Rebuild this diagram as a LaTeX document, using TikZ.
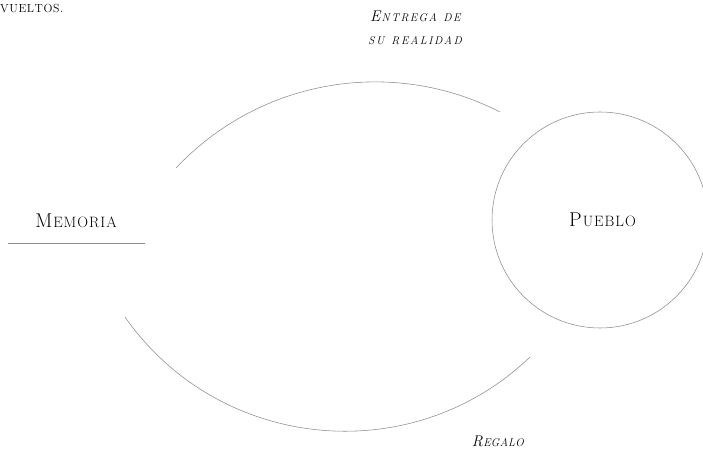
\documentclass[tikz,border=0pt]{standalone}
\usepackage{fontspec}
\tikzset{
  link/.style={draw=black!45, line width=0.55pt},
  lbl/.style={inner sep=0pt, text=black},
  ring/.style={draw=black!45, line width=0.55pt, circle, minimum size=216pt, inner sep=0pt},
}
\makeatletter
\newcommand\spread[2]{\def\spr@k{\kern#1}\spr@#2\spr@end}
\def\spr@end{\spr@end}
\def\spr@#1{\ifx#1\spr@end\else#1\spr@k\expandafter\spr@\fi}
\makeatother
% fake small caps: #1 letter-spacing, #2 capital, #3 rest (in upper case)
\newcommand\upsc[3]{{\fontsize{20}{24}\selectfont #2}\kern#1{\fontsize{15}{18}\selectfont\spread{#1}{#3}}}
\newcommand\itsc[3]{{\itshape{\fontsize{15.5}{18}\selectfont #2}\kern#1{\fontsize{11.2}{13}\selectfont\spread{#1}{#3}}}}
\begin{document}
\begin{tikzpicture}[x=1pt,y=1pt]
\useasboundingbox (0,0) rectangle (703,454);
\node[lbl, anchor=base west] (cap) at (0,441) {\fontsize{11.7}{14}\selectfont\spread{0.6pt}{VUELTOS.}};
\node[lbl, anchor=base] (entregaA) at (416,432) {\itsc{1.4pt}{E}{NTREGA~DE}};
\node[lbl, anchor=base] (entregaB) at (416,409) {\itshape\fontsize{11.2}{13}\selectfont\spread{1.6pt}{SU~REALIDAD}};
\node[lbl, anchor=base, minimum width=137pt, inner ysep=15pt] (mem) at (76.5,226) {\upsc{1pt}{M}{EMORIA}};
\draw[link] (mem.south west) -- (mem.south east);
\node[ring] (pueblo) at (600,234) {\hspace{6pt}\upsc{1pt}{P}{UEBLO}};
\node[lbl, anchor=base] (regalo) at (498,7) {\itsc{0.3pt}{R}{EGALO}};
\coordinate (m1) at (176,286);
\coordinate (p1) at (500,342);
\coordinate (m2) at (125,137);
\coordinate (p2) at (530,97);
\draw[link] (m1) to[out=46.7, in=152.9, looseness=0.95] (p1);
\draw[link] (m2) to[out=-55, in=223.8, looseness=1.03] (p2);
\end{tikzpicture}
\end{document}
